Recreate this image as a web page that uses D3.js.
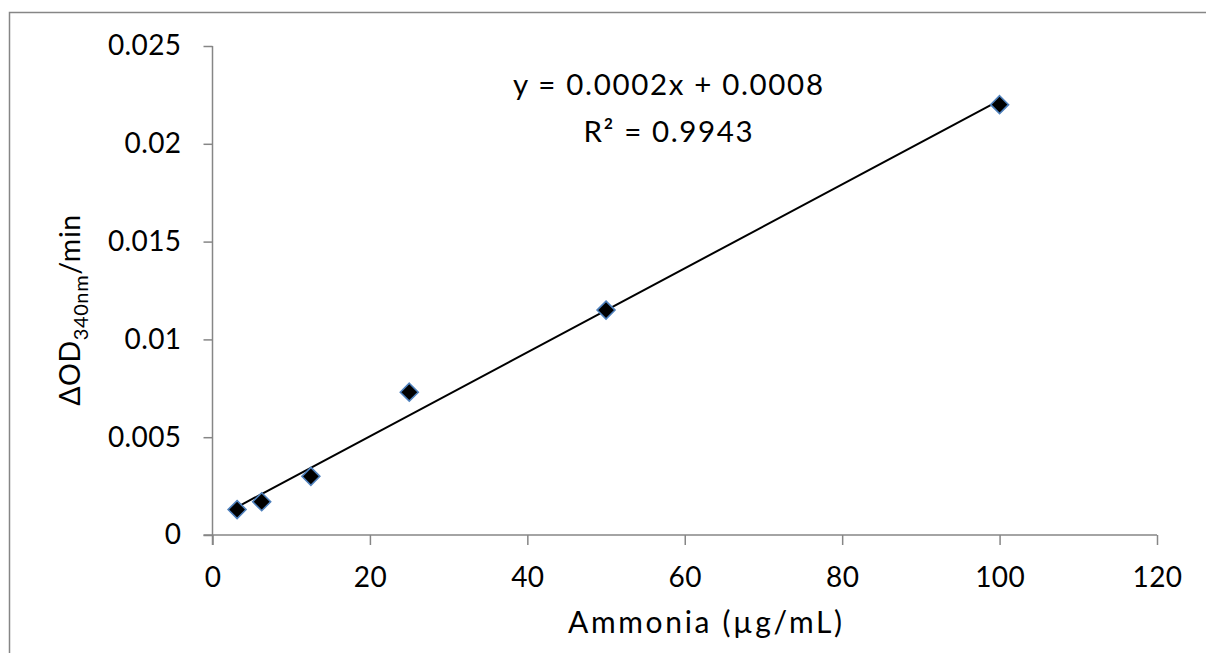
<!DOCTYPE html>
<html>
<head>
<meta charset="utf-8">
<script src="https://cdn.jsdelivr.net/npm/d3@7"></script>
<style>
  html, body { margin: 0; padding: 0; background: #fff; }
  svg { display: block; font-family: Lato, "Open Sans", sans-serif; }
</style>
</head>
<body>
<svg id="chart" width="1206" height="653"></svg>
<script>
// ---- data ----
const ammonia = [3.125, 6.25, 12.5, 25, 50, 100];
const deltaOD = [0.0013, 0.0017, 0.0030, 0.0073, 0.0115, 0.0220];
const xTicks = [0, 20, 40, 60, 80, 100, 120];
const yTicks = [0, 0.005, 0.01, 0.015, 0.02, 0.025];
const yTickLabels = ["0", "0.005", "0.01", "0.015", "0.02", "0.025"];
const equationLines = ["y = 0.0002x + 0.0008", "R² = 0.9943"];
const xTitle = "Ammonia (µg/mL)";

(function () {
// ---- layout ----
const svg = d3.select("#chart");
const pLeft = 212.5, pRight = 1157, pTop = 46, pBottom = 535;
const axisColor = "#868686";

// chart border
svg.append("rect")
  .attr("x", 9.5).attr("y", 12.5)
  .attr("width", 1206).attr("height", 653)
  .attr("fill", "#fff")
  .attr("stroke", axisColor).attr("stroke-width", 1.5);

const x = d3.scaleLinear().domain([0, 120]).range([pLeft, pRight]);
const y = d3.scaleLinear().domain([0, 0.025]).range([pBottom, pTop]);

// axes
const xAxis = svg.append("g")
  .attr("transform", `translate(0,${pBottom})`)
  .call(d3.axisBottom(x).tickValues(xTicks).tickSize(10).tickSizeOuter(0).tickPadding(22).tickFormat(d3.format("d")));
const yAxis = svg.append("g")
  .attr("transform", `translate(${pLeft},0)`)
  .call(d3.axisLeft(y).tickValues(yTicks).tickSize(9).tickSizeOuter(0).tickPadding(22)
    .tickFormat((d, i) => yTickLabels[i]));

[xAxis, yAxis].forEach(g => {
  g.select(".domain").attr("stroke", axisColor).attr("stroke-width", 1.5);
  g.selectAll(".tick line").attr("stroke", axisColor).attr("stroke-width", 1.5);
  g.selectAll(".tick text").attr("fill", "#000").attr("font-size", 28)
    .attr("letter-spacing", 0.4)
    .attr("font-family", "Lato, 'Open Sans', sans-serif");
});
xAxis.select(".domain").attr("d", `M${pLeft - 9},0H${pRight}`);
yAxis.select(".domain").attr("d", `M0,${pTop}V${pBottom + 10}`);

// linear trendline (least squares fit of the data)
const n = ammonia.length;
const mx = d3.mean(ammonia), my = d3.mean(deltaOD);
let sxy = 0, sxx = 0;
for (let i = 0; i < n; i++) {
  sxy += (ammonia[i] - mx) * (deltaOD[i] - my);
  sxx += (ammonia[i] - mx) ** 2;
}
const slope = sxy / sxx, intercept = my - slope * mx;
const xMin = d3.min(ammonia), xMax = d3.max(ammonia);
svg.append("line")
  .attr("x1", x(xMin)).attr("y1", y(slope * xMin + intercept))
  .attr("x2", x(xMax)).attr("y2", y(slope * xMax + intercept))
  .attr("stroke", "#000").attr("stroke-width", 2);

// markers (diamonds)
const pts = ammonia.map((a, i) => ({ a, v: deltaOD[i] }));
const diamond = d3.symbol().type(d3.symbolDiamond2).size(205);
svg.append("g").selectAll("path")
  .data(pts).join("path")
  .attr("d", diamond)
  .attr("transform", d => `translate(${x(d.a)},${y(d.v)})`)
  .attr("fill", "#000")
  .attr("stroke", "#4f81bd")
  .attr("stroke-width", 1.6);

// equation label
const eqWidths = [310, 169];
svg.append("g").selectAll("text")
  .data(equationLines).join("text")
  .attr("x", 668)
  .attr("y", (d, i) => 95 + i * 47)
  .attr("text-anchor", "middle")
  .attr("font-size", 29.5)
  .attr("textLength", (d, i) => eqWidths[i])
  .attr("lengthAdjust", "spacing")
  .attr("fill", "#000")
  .text(d => d);

// x title
svg.append("text")
  .attr("x", 705).attr("y", 633)
  .attr("text-anchor", "middle")
  .attr("font-size", 30)
  .attr("textLength", 274)
  .attr("lengthAdjust", "spacing")
  .attr("fill", "#000")
  .text(xTitle);

// y title
const yt = svg.append("text")
  .attr("transform", "translate(80,310) rotate(-90)")
  .attr("text-anchor", "middle")
  .attr("font-size", 28.5)
  .attr("letter-spacing", 0.6)
  .attr("fill", "#000");
yt.append("tspan").text("ΔOD");
yt.append("tspan").attr("font-size", 20).attr("dy", 8).text("340nm");
yt.append("tspan").attr("dy", -8).text("/min");
})();
</script>
</body>
</html>
